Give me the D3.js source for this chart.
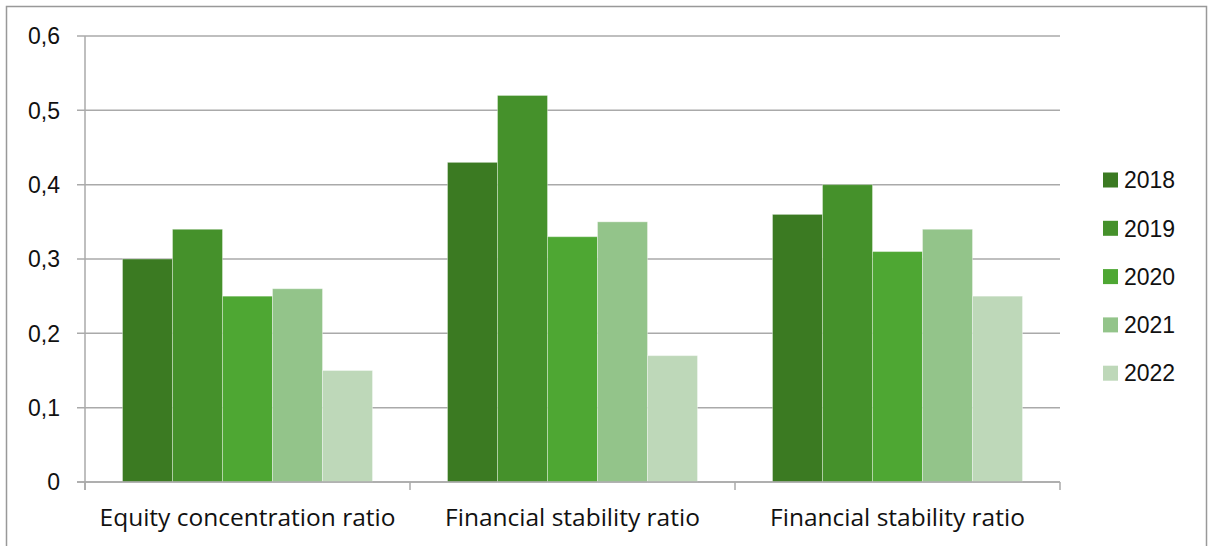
<!DOCTYPE html>
<html><head><meta charset="utf-8">
<script src="https://cdn.jsdelivr.net/npm/d3@7/dist/d3.min.js"></script>
<style>body{margin:0;background:#fff;}svg{display:block;}</style>
</head><body><svg id="c" width="1211" height="546"></svg>
<script>
const categories = ["Equity concentration ratio", "Financial stability ratio", "Financial stability ratio "];
const years = ["2018", "2019", "2020", "2021", "2022"];
const s2018 = [0.30, 0.43, 0.36];
const s2019 = [0.34, 0.52, 0.40];
const s2020 = [0.25, 0.33, 0.31];
const s2021 = [0.26, 0.35, 0.34];
const s2022 = [0.15, 0.17, 0.25];
const yTicks = [0, 0.1, 0.2, 0.3, 0.4, 0.5, 0.6];
const colors = ["#3b7a22", "#45912b", "#4ea733", "#93c48a", "#bed8b9"];
const series = [s2018, s2019, s2020, s2021, s2022];

const svg = d3.select("#c");
svg.append("rect").attr("x", 6.5).attr("y", 6.5).attr("width", 1200).attr("height", 560)
  .attr("fill", "#fff").attr("stroke", "#999").attr("stroke-width", 1.5);

const x0 = d3.scaleBand().domain(d3.range(categories.length)).range([85, 1060]).paddingInner(0).paddingOuter(0);
const x1 = d3.scaleBand().domain(years).range([37.5, 325 - 37.5]);
const y = d3.scaleLinear().domain([0, 0.6]).range([482, 36]);

// gridlines
svg.append("g").selectAll("line").data(yTicks).join("line")
  .attr("x1", 77).attr("x2", 1060).attr("y1", d => y(d)).attr("y2", d => y(d))
  .attr("stroke", "#aaa").attr("stroke-width", 1.5);
// y axis line
svg.append("line").attr("x1", 85).attr("x2", 85).attr("y1", 36).attr("y2", 490)
  .attr("stroke", "#aaa").attr("stroke-width", 1.5);
// y labels
svg.append("g").selectAll("text").data(yTicks).join("text")
  .attr("x", 60).attr("y", d => y(d)).attr("dy", "0.36em").attr("text-anchor", "end")
  .attr("font-family", "Liberation Sans, Arial, sans-serif").attr("font-size", 23).attr("fill", "#111")
  .text(d => d === 0 ? "0" : d3.format(".1f")(d).replace(".", ","));

// bars
const groups = svg.append("g").selectAll("g").data(categories).join("g")
  .attr("transform", (d, i) => `translate(${x0(i)},0)`);
groups.selectAll("rect").data((d, i) => years.map((yr, k) => ({yr, v: series[k][i], k}))).join("rect")
  .attr("x", d => x1(d.yr)).attr("width", x1.bandwidth())
  .attr("y", d => y(d.v)).attr("height", d => y(0) - y(d.v))
  .attr("fill", d => colors[d.k]).attr("stroke", "rgba(255,255,255,0.35)").attr("stroke-width", 1);

// x axis baseline and ticks
svg.append("line").attr("x1", 77).attr("x2", 1060).attr("y1", y(0)).attr("y2", y(0))
  .attr("stroke", "#aaa").attr("stroke-width", 1.5);
svg.append("g").selectAll("line").data(d3.range(categories.length + 1)).join("line")
  .attr("x1", d => 85 + d * x0.bandwidth()).attr("x2", d => 85 + d * x0.bandwidth())
  .attr("y1", y(0)).attr("y2", 490).attr("stroke", "#aaa").attr("stroke-width", 1.5);
// x labels
svg.append("g").selectAll("text").data(categories).join("text")
  .attr("x", (d, i) => x0(i) + x0.bandwidth() / 2).attr("y", 526).attr("text-anchor", "middle")
  .attr("font-family", "Open Sans, sans-serif").attr("font-size", 24.5).attr("fill", "#111")
  .text(d => d.trim());

// legend
const lg = svg.append("g").selectAll("g").data(years).join("g")
  .attr("transform", (d, i) => `translate(1103,${180 + i * 48.3})`);
lg.append("rect").attr("x", 0).attr("y", -7.5).attr("width", 15).attr("height", 15)
  .attr("fill", (d, i) => colors[i]);
lg.append("text").attr("x", 21).attr("y", 0).attr("dy", "0.36em")
  .attr("font-family", "Liberation Sans, Arial, sans-serif").attr("font-size", 23).attr("fill", "#111")
  .text(d => d);
</script></body></html>
